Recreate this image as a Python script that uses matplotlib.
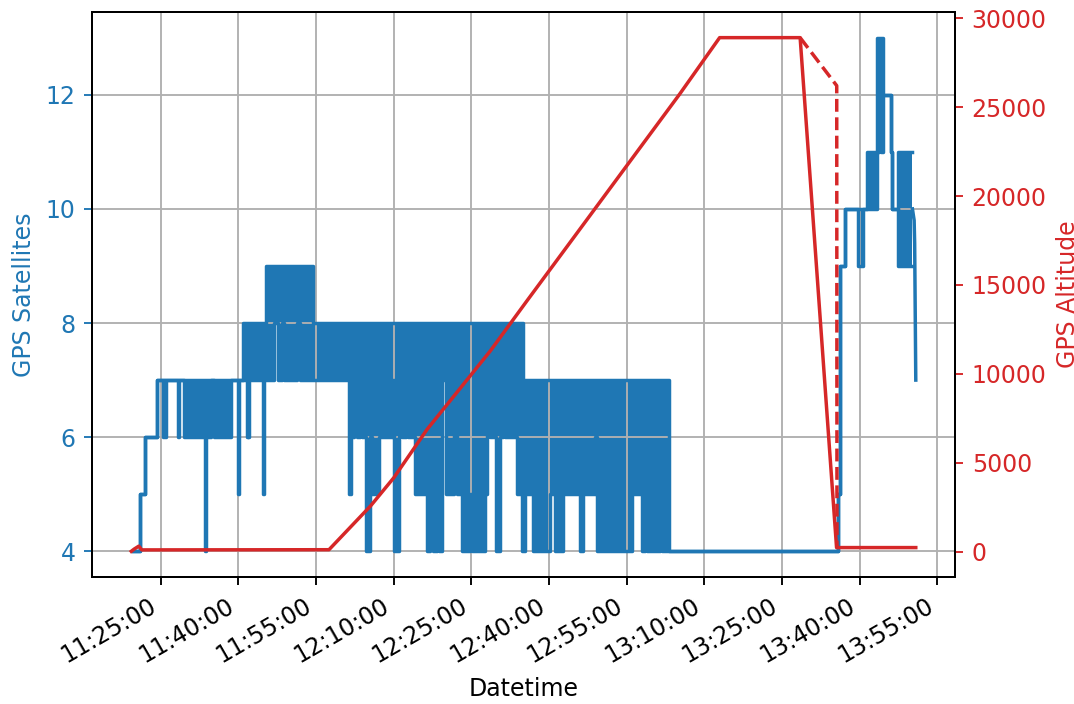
import matplotlib
matplotlib.use("Agg")
import matplotlib.pyplot as plt
import matplotlib.dates as mdates
import numpy as np
import pandas as pd

DAY = "2023-06-01"

# ---- GPS satellites: intervals (start time, low, high); value fluctuates between low/high
sat_start = [
    "11:19:38", "11:21:02", "11:22:00", "11:24:18", "11:25:22", "11:25:34", "11:25:51", "11:26:02",
    "11:28:25", "11:28:36", "11:29:34", "11:33:33", "11:33:48", "11:34:42", "11:35:14", "11:38:34",
    "11:39:58", "11:40:12", "11:40:49", "11:41:38", "11:41:50", "11:41:56", "11:42:07", "11:44:40",
    "11:44:51", "11:45:18", "11:46:54", "11:47:40", "11:48:19", "11:48:49", "11:51:24", "11:51:54",
    "11:54:25", "12:01:21", "12:01:44", "12:02:18", "12:02:58", "12:03:28", "12:03:55", "12:04:39",
    "12:05:20", "12:05:51", "12:07:07", "12:09:46", "12:10:01", "12:10:55", "12:11:10", "12:11:38",
    "12:12:16", "12:12:42", "12:14:11", "12:16:27", "12:17:05", "12:17:39", "12:18:26", "12:18:49",
    "12:19:23", "12:20:10", "12:21:34", "12:22:13", "12:23:15", "12:24:47", "12:25:07", "12:26:08",
    "12:26:19", "12:27:40", "12:28:03", "12:28:38", "12:29:47", "12:30:26", "12:31:08", "12:31:31",
    "12:33:47", "12:34:48", "12:35:03", "12:35:17", "12:36:55", "12:40:11", "12:41:09", "12:42:42",
    "12:45:58", "12:46:36", "12:48:52", "12:49:11", "12:55:56", "12:57:51", "12:58:29", "12:58:56",
    "13:01:23", "13:01:54", "13:03:10", "13:35:43", "13:36:08", "13:37:09", "13:39:34", "13:40:32",
    "13:41:23", "13:43:25", "13:43:39", "13:44:08", "13:44:25", "13:46:00", "13:46:15", "13:47:25",
]
sat_low = [
    4, 5, 6, 7, 6, 7, 6, 7,
    6, 7, 6, 4, 6, 7, 6, 7,
    5, 7, 7, 6, 7, 6, 7, 5,
    7, 7, 8, 7, 8, 7, 8, 7,
    7, 5, 6, 7, 6, 7, 6, 4,
    6, 5, 6, 7, 4, 6, 7, 6,
    7, 6, 5, 4, 5, 4, 5, 4,
    7, 5, 7, 5, 4, 5, 4, 5,
    4, 5, 7, 6, 4, 6, 7, 6,
    5, 4, 4, 5, 4, 5, 4, 5,
    4, 5, 6, 4, 5, 4, 5, 4,
    5, 4, 4, 5, 9, 10, 9, 10,
    10, 11, 12, 11, 12, 11, 10, 9,
]
sat_high = [
    4, 5, 6, 7, 7, 7, 7, 7,
    7, 7, 7, 7, 7, 7, 7, 7,
    7, 7, 8, 8, 8, 8, 8, 8,
    8, 9, 9, 9, 9, 9, 9, 9,
    8, 8, 8, 8, 8, 8, 8, 8,
    8, 8, 8, 8, 8, 8, 8, 8,
    8, 8, 8, 8, 8, 8, 8, 8,
    8, 8, 8, 8, 8, 8, 8, 8,
    8, 8, 8, 8, 8, 8, 8, 8,
    8, 8, 7, 7, 7, 7, 7, 7,
    7, 7, 7, 7, 7, 7, 7, 7,
    7, 7, 4, 5, 9, 10, 10, 10,
    11, 13, 13, 13, 12, 11, 10, 11,
]
sat_end = "13:50:10"

# final readings after the last interval
tail_time = ["13:50:10", "13:50:30", "13:50:36", "13:50:49"]
tail_sats = [10, 9.8, 9.4, 7]

# ---- GPS altitude
alt_time = ["11:19:18", "11:19:50", "11:20:45", "11:21:20", "11:57:29", "12:05:31", "12:10:01",
            "12:16:27", "12:22:51", "12:28:38", "12:35:42", "13:05:14", "13:12:56", "13:28:29",
            "13:35:31", "13:50:49"]
alt_value = [30, 150, 320, 110, 120, 2580, 4170, 6890, 9200, 11290, 14100, 25735, 28900, 28900,
             240, 240]

# dashed segment (alternate altitude trace during descent)
alt2_time = ["13:28:29", "13:35:33", "13:35:36"]
alt2_value = [28900, 26200, 240]


def ts(lst):
    return pd.to_datetime([f"{DAY} {s}" for s in lst]).to_numpy()


BLUE = "#1f77b4"
RED = "#d62728"
LW = 2.5

plt.rcParams["font.family"] = "DejaVu Sans"
plt.rcParams["font.size"] = 17
plt.rcParams["axes.labelpad"] = 6.8

fig = plt.figure(figsize=(10.74, 7.04), dpi=100)
ax1 = fig.add_axes([0.0857, 0.1804, 0.8035, 0.8026])
ax2 = ax1.twinx()

t_edges = ts(sat_start + [sat_end])
lo_ext = np.array(sat_low + [sat_low[-1]], dtype=float)
hi_ext = np.array(sat_high + [sat_high[-1]], dtype=float)

ax1.fill_between(t_edges, lo_ext, hi_ext, step="post", color=BLUE, lw=0)
ax1.step(t_edges, hi_ext, where="post", color=BLUE, lw=LW)
ax1.step(t_edges, lo_ext, where="post", color=BLUE, lw=LW)
ax1.plot(ts(tail_time), tail_sats, color=BLUE, lw=LW)

ax2.plot(ts(alt_time), alt_value, color=RED, lw=LW)
ax2.plot(ts(alt2_time), alt2_value, color=RED, lw=LW, ls="--", dashes=(3.7, 1.6))

ax1.set_ylabel("GPS Satellites", color=BLUE)
ax2.set_ylabel("GPS Altitude", color=RED)
ax1.set_xlabel("Datetime")

TK = dict(length=6, width=1.36, pad=6)
ax1.tick_params(axis="y", colors=BLUE, **TK)
ax1.tick_params(axis="x", **TK)
ax2.tick_params(axis="y", colors=RED, **TK)
ax1.yaxis.label.set_color(BLUE)
ax2.yaxis.label.set_color(RED)

ax1.set_yticks([4, 6, 8, 10, 12])
ax2.set_yticks([0, 5000, 10000, 15000, 20000, 25000, 30000])

ax1.xaxis.set_major_locator(mdates.MinuteLocator(byminute=[10, 25, 40, 55]))
ax1.xaxis.set_major_formatter(mdates.DateFormatter("%H:%M:%S"))
for lbl in ax1.get_xticklabels():
    lbl.set_rotation(30)
    lbl.set_ha("right")

ax1.grid(True, color="#b0b0b0", lw=1.36)
for ax in (ax1, ax2):
    for sp in ax.spines.values():
        sp.set_linewidth(1.36)

fig.savefig("out.png", dpi=100)
